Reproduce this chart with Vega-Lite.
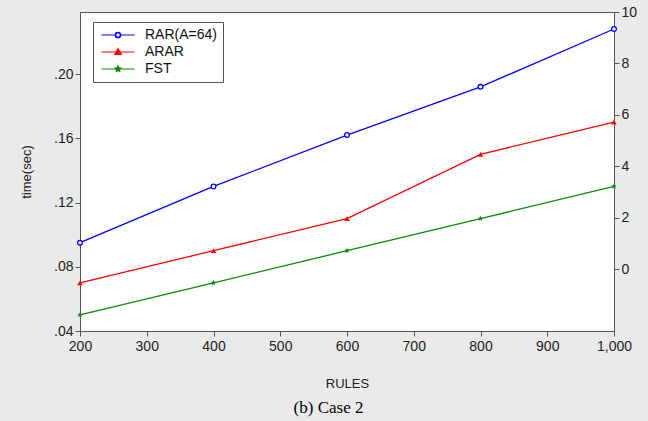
{
  "$schema": "https://vega.github.io/schema/vega-lite/v6.json",
  "width": 534,
  "height": 319,
  "autosize": {"type": "none"},
  "padding": {"left": 80, "top": 12, "right": 34, "bottom": 90},
  "background": "#eaeaea",
  "title": {
    "text": "(b) Case 2",
    "orient": "bottom",
    "anchor": "middle",
    "frame": "bounds",
    "font": "Liberation Serif",
    "fontSize": 17,
    "fontWeight": "normal",
    "color": "#000",
    "offset": 10
  },
  "config": {
    "view": {"stroke": "#555", "fill": "white"},
    "axis": {
      "grid": false,
      "labelFont": "Liberation Sans",
      "labelFontSize": 14,
      "labelColor": "#222",
      "titleFont": "Liberation Sans",
      "titleFontSize": 13,
      "titleFontWeight": "normal",
      "titleColor": "#222",
      "tickColor": "#555",
      "domainColor": "#555",
      "tickSize": 5
    }
  },
  "data": {
    "values": [
      {"rules": 200, "series": "RAR(A=64)", "time": 0.095},
      {"rules": 400, "series": "RAR(A=64)", "time": 0.130},
      {"rules": 600, "series": "RAR(A=64)", "time": 0.162},
      {"rules": 800, "series": "RAR(A=64)", "time": 0.192},
      {"rules": 1000, "series": "RAR(A=64)", "time": 0.228},
      {"rules": 200, "series": "ARAR", "time": 0.070},
      {"rules": 400, "series": "ARAR", "time": 0.090},
      {"rules": 600, "series": "ARAR", "time": 0.110},
      {"rules": 800, "series": "ARAR", "time": 0.150},
      {"rules": 1000, "series": "ARAR", "time": 0.170},
      {"rules": 200, "series": "FST", "time": 0.050},
      {"rules": 400, "series": "FST", "time": 0.070},
      {"rules": 600, "series": "FST", "time": 0.090},
      {"rules": 800, "series": "FST", "time": 0.110},
      {"rules": 1000, "series": "FST", "time": 0.130}
    ]
  },
  "encoding": {
    "x": {
      "field": "rules",
      "type": "quantitative",
      "scale": {"domain": [200, 1000], "nice": false, "zero": false},
      "axis": {
        "title": "RULES",
        "values": [200, 300, 400, 500, 600, 700, 800, 900, 1000],
        "format": ",d",
        "labelPadding": 3,
        "titlePadding": 24,
        "labelFlush": false
      }
    }
  },
  "layer": [
    {
      "layer": [
        {
          "mark": {"type": "line", "strokeWidth": 1.3},
          "encoding": {
            "y": {
              "field": "time",
              "type": "quantitative",
              "scale": {"domain": [0.04, 0.2386], "nice": false, "zero": false},
              "axis": {
                "title": "time(sec)",
                "values": [0.04, 0.08, 0.12, 0.16, 0.20],
                "labelExpr": "substring(format(datum.value, '.2f'), 1)",
                "labelPadding": 2,
                "titlePadding": 20,
                "labelFlush": false
              }
            },
            "color": {
              "field": "series",
              "type": "nominal",
              "scale": {"domain": ["RAR(A=64)", "ARAR", "FST"], "range": ["#0000ff", "#ff0000", "#0a8a0a"]},
              "legend": {
                "title": null,
                "orient": "none",
                "legendX": 13,
                "legendY": 10,
                "fillColor": "white",
                "strokeColor": "#555",
                "padding": 6,
                "symbolSize": 100,
                "symbolOffset": 12,
                "labelOffset": 20,
                "labelFont": "Liberation Sans",
                "labelFontSize": 14,
                "labelColor": "#111",
                "rowPadding": 3,
                "encode": {
                  "symbols": {
                    "update": {
                      "shape": {"signal": "datum.value === 'RAR(A=64)' ? 'M-3.3,0H-0.55M0.55,0H3.3M-0.55,0A0.55,0.55 0 1,1 0.55,0A0.55,0.55 0 1,1 -0.55,0ZM-0.45,0A0.45,0.45 0 1,0 0.45,0A0.45,0.45 0 1,0 -0.45,0Z' : (datum.value === 'ARAR' ? 'M-3.3,0H3.3M0,-0.65L0.65,0.5L-0.65,0.5Z' : 'M-3.3,0H3.3M0,-0.6L0.17,-0.24L0.57,-0.19L0.29,0.09L0.35,0.49L0,0.3L-0.35,0.49L-0.29,0.09L-0.57,-0.19L-0.17,-0.24Z')"},
                      "fill": {"signal": "datum.value === 'RAR(A=64)' ? '#ffffff' : (datum.value === 'ARAR' ? '#ff0000' : '#0a8a0a')"},
                      "stroke": {"signal": "datum.value === 'RAR(A=64)' ? '#0000ff' : (datum.value === 'ARAR' ? '#ff0000' : '#0a8a0a')"},
                      "fillOpacity": {"value": 1},
                      "strokeWidth": {"value": 1.2},
                      "opacity": {"value": 1}
                    }
                  }
                }
              }
            }
          }
        },
        {
          "transform": [{"filter": "datum.series === 'RAR(A=64)'"}],
          "mark": {"type": "point", "shape": "circle", "filled": true, "fill": "white", "stroke": "#0000ff", "size": 22, "strokeWidth": 1.3, "opacity": 1},
          "encoding": {
            "y": {"field": "time", "type": "quantitative"}
          }
        },
        {
          "transform": [{"filter": "datum.series !== 'RAR(A=64)'"}],
          "mark": {"type": "point", "filled": true, "size": 30, "opacity": 1},
          "encoding": {
            "y": {"field": "time", "type": "quantitative"},
            "color": {"field": "series", "type": "nominal", "legend": null},
            "shape": {
              "field": "series",
              "type": "nominal",
              "scale": {"domain": ["ARAR", "FST"], "range": ["triangle-up", "M0,-1L0.29,-0.4L0.95,-0.31L0.48,0.15L0.59,0.81L0,0.5L-0.59,0.81L-0.48,0.15L-0.95,-0.31L-0.29,-0.4Z"]},
              "legend": null
            }
          }
        }
      ]
    },
    {
      "mark": {"type": "point", "opacity": 0},
      "encoding": {
        "y": {
          "datum": 0,
          "type": "quantitative",
          "scale": {"domain": [-2.4, 10], "nice": false, "zero": false},
          "axis": {
            "orient": "right",
            "title": null,
            "values": [0, 2, 4, 6, 8, 10],
            "labelPadding": 2,
            "labelFlush": false
          }
        }
      }
    }
  ],
  "resolve": {"scale": {"y": "independent"}}
}
